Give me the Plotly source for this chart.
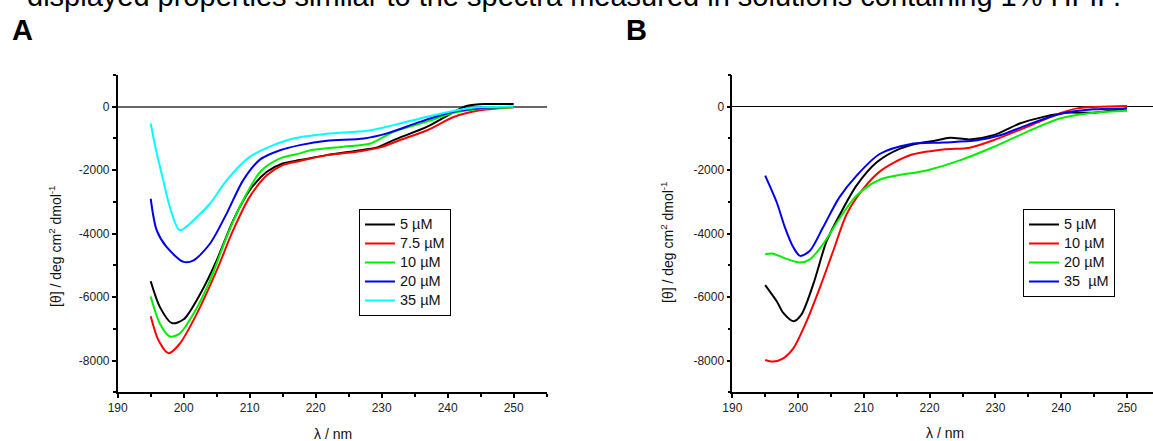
import plotly.graph_objects as go

# ---------------- data ----------------
# Panel A
wl_A_5 = [195, 196.4, 198.2, 200, 202.5, 205, 207.5, 210, 212.6, 215, 217.6, 221.7, 226.8, 229.3, 231.8, 236.9, 241, 243, 246, 250]
th_A_5 = [-5500, -6315, -6820, -6700, -5900, -4840, -3580, -2630, -2050, -1790, -1680, -1525, -1370, -1280, -1050, -630, -160, 30, 85, 85]

wl_A_7p5 = [195, 196.2, 197.7, 199.4, 202, 205, 207.5, 210, 212.6, 215, 217.6, 221.7, 226.8, 229.8, 232.8, 236.9, 241, 244.5, 250]
th_A_7p5 = [-6600, -7370, -7770, -7470, -6520, -5160, -3890, -2840, -2160, -1840, -1710, -1525, -1400, -1280, -1050, -740, -315, -126, -20]

wl_A_10 = [195, 196.4, 197.9, 199.4, 201.5, 204, 206.5, 209, 211.6, 214.6, 217.6, 219.2, 224.2, 228.3, 231.8, 236.9, 240.9, 246, 250]
th_A_10 = [-5980, -6840, -7240, -7150, -6520, -5470, -4100, -2950, -2050, -1630, -1470, -1370, -1260, -1160, -790, -470, -190, -50, -20]

wl_A_20 = [195, 195.9, 197.4, 200, 201.5, 204, 206.5, 209, 211.6, 214.6, 217.6, 221.7, 227.3, 230.8, 235.9, 240.9, 245, 250]
th_A_20 = [-2900, -3890, -4420, -4890, -4840, -4310, -3370, -2320, -1660, -1370, -1210, -1070, -1000, -840, -470, -160, -50, 0]

wl_A_35 = [195, 195.7, 196.9, 197.9, 199.4, 202.5, 204, 206.5, 210, 213.6, 216.6, 221.7, 227.8, 231.8, 236.9, 241, 244.5, 250]
th_A_35 = [-530, -1260, -2320, -3160, -3890, -3370, -3050, -2320, -1580, -1210, -1000, -850, -760, -580, -315, -126, -20, 0]

# Panel B
wl_B_5 = [195, 196.75, 197.75, 199.3, 200.5, 202.3, 204.35, 206.4, 208.9, 212, 215.5, 218.5, 220.6, 223.1, 226.1, 229.7, 233.7, 237.3, 240.8, 244.9, 250]
th_B_5 = [-5620, -6130, -6500, -6760, -6550, -5600, -4230, -3380, -2480, -1744, -1320, -1140, -1080, -980, -1030, -900, -530, -320, -190, -190, -50]

wl_B_10 = [195, 196.2, 197.75, 199.3, 201.3, 203.3, 205.35, 207.4, 209.9, 212.5, 217, 222.1, 226.1, 229.7, 234.8, 239.8, 242.4, 250]
th_B_10 = [-7980, -8030, -7930, -7610, -6760, -5710, -4540, -3380, -2590, -2030, -1530, -1350, -1290, -1056, -634, -209, -52, 20]

wl_B_20 = [195, 196.2, 197.75, 200.3, 201.8, 203.8, 206.4, 208.9, 212.4, 219.55, 224.6, 229.7, 234.8, 239.8, 244.9, 250]
th_B_20 = [-4650, -4630, -4755, -4910, -4810, -4330, -3490, -2800, -2300, -2007, -1690, -1270, -790, -370, -190, -127]

wl_B_35 = [195, 196.75, 198, 199.3, 200.3, 201.8, 203.8, 206.3, 208.9, 212.4, 217, 222.1, 227.2, 230.7, 234.8, 239.8, 244.9, 250]
th_B_35 = [-2170, -3010, -3800, -4440, -4700, -4540, -3800, -2850, -2170, -1490, -1180, -1130, -1060, -900, -580, -230, -83, -52]

labels_A = ["5 µM", "7.5 µM", "10 µM", "20 µM", "35 µM"]
labels_B = ["5 µM", "10 µM", "20 µM", "35\u00a0 µM"]

x_tick_vals = [190, 200, 210, 220, 230, 240, 250]
x_minor_vals = [195, 205, 215, 225, 235, 245, 255]
y_tick_vals = [0, -2000, -4000, -6000, -8000]
y_tick_text = ["0", "-2000", "-4000", "-6000", "-8000"]
y_minor_vals = [1000, -1000, -3000, -5000, -7000, -9000]

colors_A = ["#000000", "#ff0000", "#00ee00", "#0000ee", "#00ffff"]
colors_B = ["#000000", "#ff0000", "#00ee00", "#0000ee"]

# ---------------- figure ----------------
W, H = 1153, 441
def px(x):
    return x / W
def py(y):
    return 1 - y / H

def leg_name(s):
    return "<span style='font-size:14.5px'>" + s + "</span>"

fig = go.Figure()

series_A = [(wl_A_5, th_A_5), (wl_A_7p5, th_A_7p5), (wl_A_10, th_A_10), (wl_A_20, th_A_20), (wl_A_35, th_A_35)]
for (wl, th), name, c in zip(series_A, labels_A, colors_A):
    fig.add_trace(go.Scatter(x=wl, y=th, mode="lines", name=leg_name(name),
                             line=dict(color=c, width=2, shape="spline", smoothing=0.8),
                             xaxis="x", yaxis="y", legend="legend"))

series_B = [(wl_B_5, th_B_5), (wl_B_10, th_B_10), (wl_B_20, th_B_20), (wl_B_35, th_B_35)]
for (wl, th), name, c in zip(series_B, labels_B, colors_B):
    fig.add_trace(go.Scatter(x=wl, y=th, mode="lines", name=leg_name(name),
                             line=dict(color=c, width=2, shape="spline", smoothing=0.8),
                             xaxis="x2", yaxis="y2", legend="legend2"))

font_family = "Liberation Sans, Arial, sans-serif"
tickfont = dict(family=font_family, size=12, color="#222")

def xax(domain, rng, anchor):
    return dict(domain=domain, range=rng, anchor=anchor, showgrid=False, zeroline=False,
                showline=True, linecolor="black", linewidth=1.5,
                ticks="outside", ticklen=4, tickwidth=1.5, tickcolor="black",
                tickmode="array", tickvals=x_tick_vals, tickfont=tickfont,
                minor=dict(tickmode="array", tickvals=x_minor_vals, ticks="outside",
                           ticklen=2.5, tickwidth=1.5, tickcolor="black", showgrid=False),
                automargin=False, fixedrange=True)

def yax(domain, anchor, zc, zw):
    return dict(domain=domain, range=[-9000, 1000], anchor=anchor, showgrid=False,
                zeroline=True, zerolinecolor=zc, zerolinewidth=zw,
                showline=True, linecolor="black", linewidth=1.5,
                ticks="outside", ticklen=4, tickwidth=1.5, tickcolor="black",
                tickmode="array", tickvals=y_tick_vals, ticktext=y_tick_text, tickfont=tickfont,
                minor=dict(tickmode="array", tickvals=y_minor_vals, ticks="outside",
                           ticklen=2.5, tickwidth=1.5, tickcolor="black", showgrid=False),
                automargin=False, fixedrange=True)

ydom = [py(392.3), py(75)]
legfont = dict(family=font_family, size=12.2, color="#111")
fig.update_layout(
    width=W, height=H,
    margin=dict(l=0, r=0, t=0, b=0),
    paper_bgcolor="white", plot_bgcolor="white",
    font=dict(family=font_family, color="#111"),
    xaxis=xax([px(117.7), px(546.7)], [190, 255], "y"),
    yaxis=yax(ydom, "x", "#666666", 1.5),
    xaxis2=xax([px(732.3), 1.0], [190, 190 + (W - 732.3) / 6.578], "y2"),
    yaxis2=yax(ydom, "x2", "#000000", 1.2),
    legend=dict(x=px(359), y=py(209), xanchor="left", yanchor="top",
                bordercolor="black", borderwidth=1, bgcolor="white",
                font=legfont, tracegroupgap=0),
    legend2=dict(x=px(1023), y=py(209), xanchor="left", yanchor="top",
                 bordercolor="black", borderwidth=1, bgcolor="white",
                 font=legfont, tracegroupgap=0),
    showlegend=True,
)

ytitle = "[θ] / deg cm<sup>2</sup> dmol<sup>-1</sup>"
ann = [
    dict(text="displayed properties similar to the spectra measured in solutions containing 1% HFIP.",
         x=px(25), y=py(14), xanchor="left", yanchor="bottom",
         font=dict(family=font_family, size=29, color="#000")),
    dict(text="<b>A</b>", x=px(10), y=py(48), xanchor="left", yanchor="bottom",
         font=dict(family=font_family, size=29, color="#000")),
    dict(text="<b>B</b>", x=px(624), y=py(48), xanchor="left", yanchor="bottom",
         font=dict(family=font_family, size=29, color="#000")),
    dict(text=ytitle, x=px(55), y=py(246), textangle=-90, xanchor="center", yanchor="middle",
         font=dict(family=font_family, size=14, color="#111")),
    dict(text=ytitle, x=px(667), y=py(242), textangle=-90, xanchor="center", yanchor="middle",
         font=dict(family=font_family, size=14, color="#111")),
    dict(text="λ / nm", x=px(333), y=py(434), xanchor="center", yanchor="middle",
         font=dict(family=font_family, size=14, color="#111")),
    dict(text="λ / nm", x=px(945), y=py(433), xanchor="center", yanchor="middle",
         font=dict(family=font_family, size=14, color="#111")),
]
for a in ann:
    a.update(xref="paper", yref="paper", showarrow=False)
fig.update_layout(annotations=ann)

fig.write_html("out.html", config={"displayModeBar": False})
